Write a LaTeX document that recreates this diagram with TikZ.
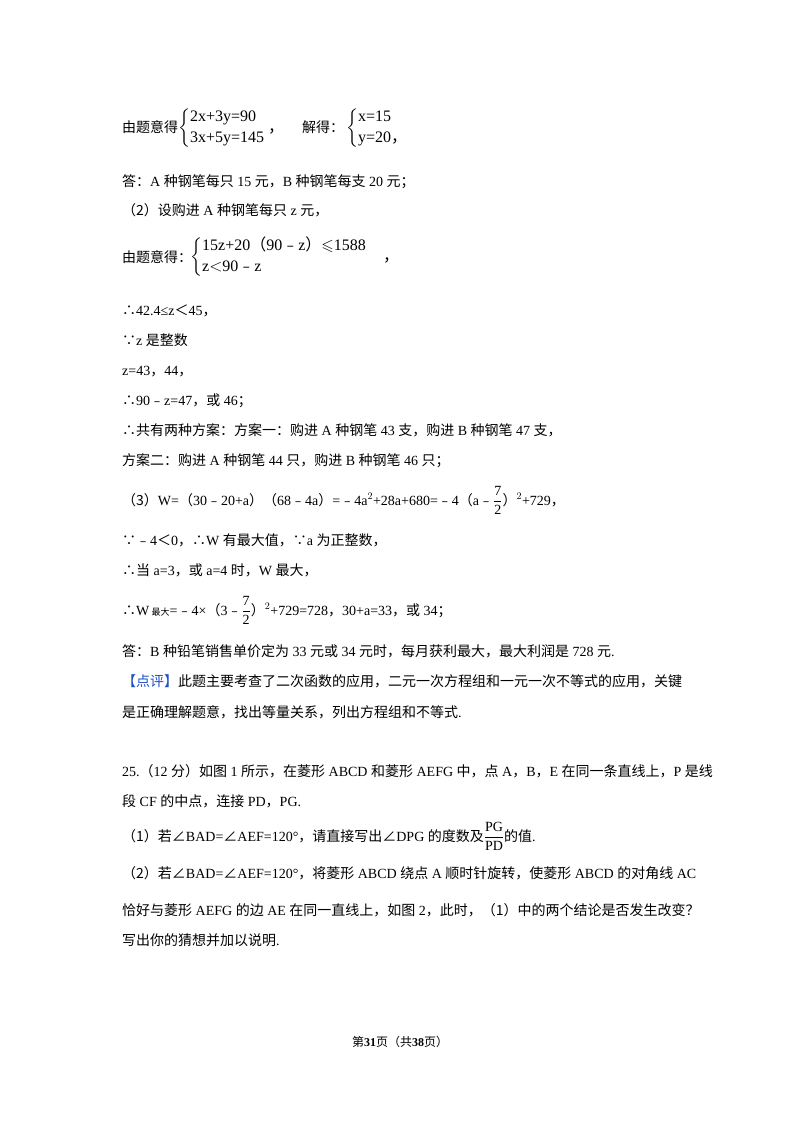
\documentclass[tikz,border=0pt]{standalone}
\usepackage{amsmath,amssymb}
\usepackage{fontspec}
\setmainfont{Liberation Serif}
\newfontfamily\cj{Noto Sans CJK SC}
\newcommand\C[1]{{\cj #1}}
\newcommand\fr[2]{$\dfrac{\text{#1}}{\text{#2}}$}
\begin{document}
\begin{tikzpicture}[x=1pt,y=-1pt,
  tl/.style={anchor=base west,inner sep=0pt,font=\fontsize{14}{16}\selectfont},
  sys/.style={anchor=west,inner sep=0pt,font=\fontsize{16}{17}\selectfont}]
\useasboundingbox[fill=white] (0,0) rectangle (800,1133);
\node[tl] (l1a) at (122,132) {\C{由题意得}};
\node[sys] (s1) at (178,128) {\renewcommand\arraystretch{1.2}$\left\{\begin{tabular}{@{}l@{}}2x+3y=90\\3x+5y=145\end{tabular}\right.$\,\C{，}};
\node[tl] (l1b) at (302,132) {\C{解得：}};
\node[sys] (s2) at (346,128) {\renewcommand\arraystretch{1.2}$\left\{\begin{tabular}{@{}l@{}}x=15\\y=20\C{，}\end{tabular}\right.$};
\node[tl] (l2) at (122,186) {\C{答：}A \C{种钢笔每只} 15 \C{元，}B \C{种钢笔每支} 20 \C{元；}};
\node[tl] (l3) at (122,215) {\C{（2）设购进} A \C{种钢笔每只} z \C{元，}};
\node[tl] (l4a) at (122,262) {\C{由题意得：}};
\node[sys] (s3) at (190,257) {\renewcommand\arraystretch{1.2}$\left\{\begin{tabular}{@{}l@{}}15z+20\C{（}90\C{﹣}z\C{）}$\leqslant$1588\\z$<$90\C{﹣}z\end{tabular}\right.$\quad\C{，}};
\node[tl] (l5) at (122,315) {\C{∴}42.4≤z\C{＜}45\C{，}};
\node[tl] (l6) at (122,345) {\C{∵}z \C{是整数}};
\node[tl] (l7) at (122,375) {z=43\C{，}44\C{，}};
\node[tl] (l8) at (122,405) {\C{∴}90\C{﹣}z=47\C{，或} 46\C{；}};
\node[tl] (l9) at (122,435) {\C{∴共有两种方案：方案一：购进} A \C{种钢笔} 43 \C{支，购进} B \C{种钢笔} 47 \C{支，}};
\node[tl] (l10) at (122,465) {\C{方案二：购进} A \C{种钢笔} 44 \C{只，购进} B \C{种钢笔} 46 \C{只；}};
\node[tl] (l11) at (122,505) {\C{（3）}W=\C{（}30\C{﹣}20+a\C{）（}68\C{﹣}4a\C{）}=\C{﹣}4a$^2$+28a+680=\C{﹣}4\C{（}a\C{﹣}\fr{7}{2}\C{）}$^{2}$+729\C{，}};
\node[tl] (l12) at (122,545) {\C{∵﹣}4\C{＜}0\C{，∴}W \C{有最大值，∵}a \C{为正整数，}};
\node[tl] (l13) at (122,575) {\C{∴当} a=3\C{，或} a=4 \C{时，}W \C{最大，}};
\node[tl] (l14) at (122,615) {\C{∴}W\,{\fontsize{9}{10}\selectfont\C{最大}}=\C{﹣}4×\C{（}3\C{﹣}\fr{7}{2}\C{）}$^{2}$+729=728\C{，}30+a=33\C{，或} 34\C{；}};
\node[tl] (l15) at (122,656) {\C{答：}B \C{种铅笔销售单价定为} 33 \C{元或} 34 \C{元时，每月获利最大，最大利润是} 728 \C{元}.};
\node[tl] (l16) at (122,686) {\textcolor[RGB]{30,80,200}{\C{【点评】}}\C{此题主要考查了二次函数的应用，二元一次方程组和一元一次不等式的应用，关键}};
\node[tl] (l17) at (122,717) {\C{是正确理解题意，找出等量关系，列出方程组和不等式}.};
\node[tl] (l18) at (122,776) {25.\C{（}12 \C{分）如图} 1 \C{所示，在菱形} ABCD \C{和菱形} AEFG \C{中，点} A\C{，}B\C{，}E \C{在同一条直线上，}P \C{是线}};
\node[tl] (l19) at (122,806) {\C{段} CF \C{的中点，连接} PD\C{，}PG.};
\node[tl] (l20) at (122,841) {\C{（1）若∠}BAD=\C{∠}AEF=120°\C{，请直接写出∠}DPG \C{的度数及}\fr{PG}{PD}\C{的值}.};
\node[tl] (l21) at (122,878) {\C{（2）若∠}BAD=\C{∠}AEF=120°\C{，将菱形} ABCD \C{绕点} A \C{顺时针旋转，使菱形} ABCD \C{的对角线} AC};
\node[tl] (l22) at (122,915) {\C{恰好与菱形} AEFG \C{的边} AE \C{在同一直线上，如图} 2\C{，此时，（1）中的两个结论是否发生改变？}};
\node[tl] (l23) at (122,945) {\C{写出你的猜想并加以说明}.};
\node[anchor=base,inner sep=0pt,font=\fontsize{12}{14}\selectfont] (ft) at (400,1046) {\C{第}\textbf{31}\C{页（共}\textbf{38}\C{页）}};
\end{tikzpicture}
\end{document}
